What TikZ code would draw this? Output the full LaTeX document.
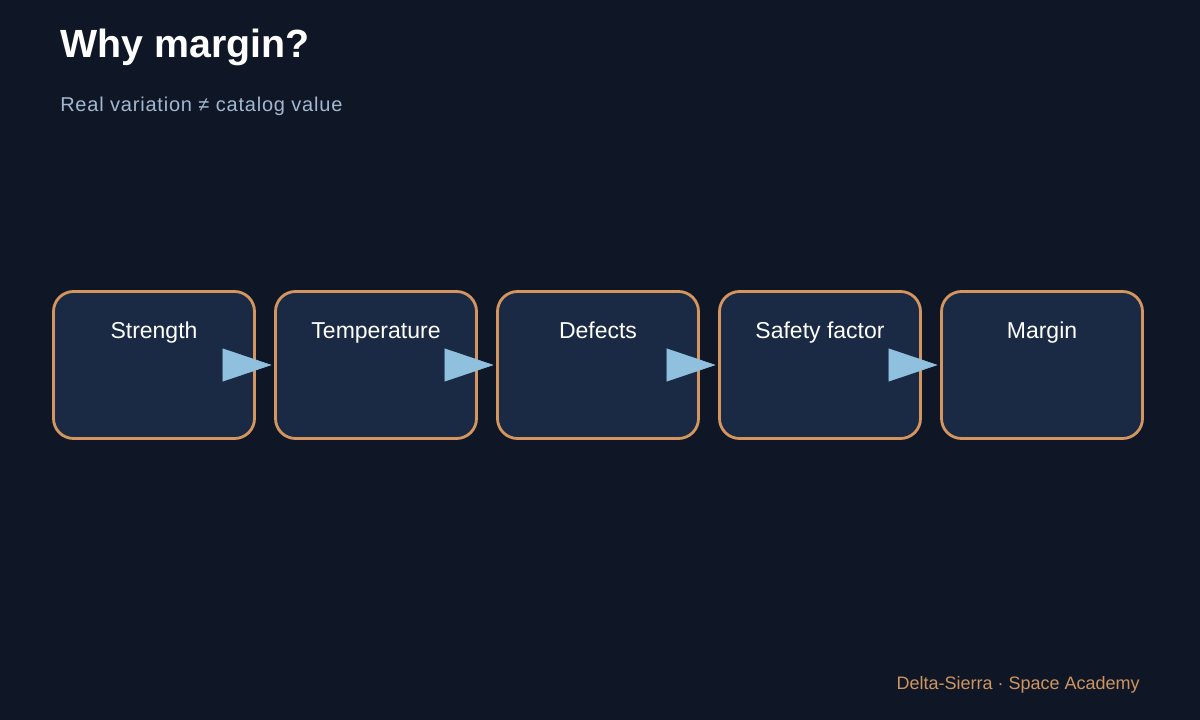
\documentclass[tikz,border=0pt]{standalone}
\usepackage{fontspec}
\setmainfont{Liberation Sans}
\newfontfamily\spacedfont[LetterSpace=4]{Liberation Sans}
\usetikzlibrary{arrows.meta}

\definecolor{bgdark}{HTML}{0F1727}
\definecolor{boxblue}{HTML}{1A2944}
\definecolor{edgeorange}{HTML}{D4965E}
\definecolor{arrowblue}{HTML}{8FC1DF}
\definecolor{subgrey}{HTML}{A3B8D0}
\definecolor{footorange}{HTML}{CF9460}

\begin{document}
\begin{tikzpicture}[x=0.75pt,y=-0.75pt,
    stagebox/.style={draw=edgeorange, fill=boxblue, line width=2.1pt, rounded corners=15pt,
        minimum width=150.75pt, minimum height=110.25pt, inner sep=0pt},
    stagetext/.style={anchor=base, inner sep=0pt, text=white, font=\fontsize{17.25}{20}\selectfont},
    flow/.style={draw=arrowblue, line width=0.4pt, shorten >=1.9pt,
        -{Triangle[length=36.75pt,width=24.75pt]}}]

    % Background
    \fill[bgdark] (0,0) rectangle (1200,720);
    \useasboundingbox (0,0) rectangle (1200,720);

    % Heading
    \node[anchor=base west, inner sep=0pt, text=white, font=\fontsize{29.5}{34}\selectfont\bfseries]
        (title) at (60,58) {Why margin?};
    \node[anchor=base west, inner sep=0pt, text=subgrey, font=\fontsize{15}{18}\spacedfont]
        (subtitle) at (60,112) {Real variation ≠ catalog value};

    % Stages
    \foreach \x/\name/\txt in {154/s1/Strength, 376/s2/Temperature, 598/s3/Defects,
        820/s4/Safety factor, 1042/s5/Margin}
    {
        \node[stagebox] (\name) at (\x,365) {};
        \node[stagetext] (\name-t) at (\x,339) {\txt};
    }

    % Arrows
    \foreach \a/\b in {s1/s2, s2/s3, s3/s4, s4/s5}
        \draw[flow] (\a) -- (\b);

    % Footer
    \node[anchor=base east, inner sep=0pt, text=footorange, font=\fontsize{13.5}{16}\selectfont]
        (footer) at (1140,689) {Delta-Sierra · Space Academy};
\end{tikzpicture}
\end{document}
